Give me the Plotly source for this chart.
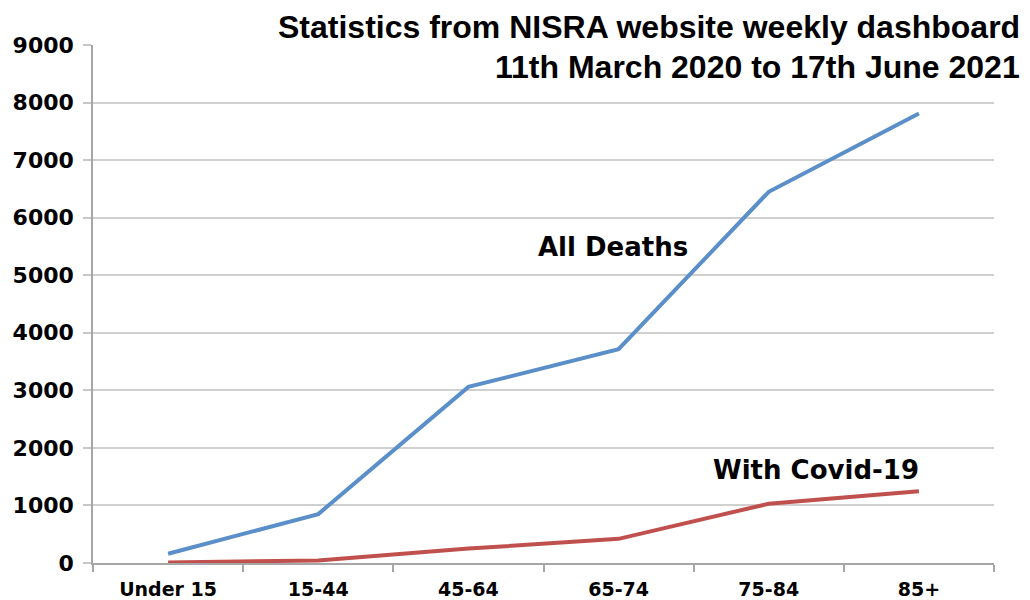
import plotly.graph_objects as go

categories = ["Under 15", "15-44", "45-64", "65-74", "75-84", "85+"]
all_deaths = [160, 850, 3060, 3715, 6450, 7810]
with_covid = [10, 45, 250, 420, 1030, 1245]
y_ticks = [0, 1000, 2000, 3000, 4000, 5000, 6000, 7000, 8000, 9000]

fig = go.Figure()
fig.add_trace(go.Scatter(x=categories, y=all_deaths, mode="lines",
                         line=dict(color="#5B8FC9", width=4), name="All Deaths"))
fig.add_trace(go.Scatter(x=categories, y=with_covid, mode="lines",
                         line=dict(color="#C0504D", width=4), name="With Covid-19"))

title_font = dict(family="Liberation Sans Narrow, Arial Narrow, Liberation Sans", size=32, color="black")
fig.add_annotation(text="<b>Statistics from NISRA website weekly dashboard</b>", xref="paper", yref="paper",
                   x=1.031, y=1.034, xanchor="right", yanchor="middle", showarrow=False, font=title_font)
fig.add_annotation(text="<b>11th March 2020 to 17th June 2021</b>", xref="paper", yref="paper",
                   x=1.031, y=0.957, xanchor="right", yanchor="middle", showarrow=False, font=title_font)

lab_font = dict(family="DejaVu Sans", size=26, color="black")
fig.add_annotation(text="<b>All Deaths</b>", xref="paper", yref="paper", x=0.577, y=0.61,
                   xanchor="center", yanchor="middle", showarrow=False, font=lab_font)
fig.add_annotation(text="<b>With Covid-19</b>", xref="paper", yref="paper", x=0.802, y=0.18,
                   xanchor="center", yanchor="middle", showarrow=False, font=lab_font)

fig.update_layout(
    width=1030, height=600,
    margin=dict(l=85, r=44, t=37, b=45),
    paper_bgcolor="white", plot_bgcolor="white",
    showlegend=False,
)
fig.update_xaxes(type="category", tickson="boundaries", ticks="outside", ticklen=7,
                 tickcolor="#a6a6a6", tickwidth=1.5, automargin=False,
                 showline=True, linecolor="#a6a6a6", linewidth=1.5, showgrid=False,
                 tickfont=dict(family="DejaVu Sans", size=19, color="black"),
                 ticklabelstandoff=8,
                 range=[-0.5, len(categories) - 0.5])
fig.update_yaxes(range=[0, 9000], tickvals=y_ticks, ticktext=[f"<b>{v}</b>" for v in y_ticks],
                 ticks="outside", ticklen=8, tickcolor="#c8c8c8", tickwidth=1.5, automargin=False,
                 showline=True, linecolor="#a6a6a6", linewidth=1.5,
                 showgrid=True, gridcolor="#d0d0d0", gridwidth=1.5, zeroline=False,
                 ticklabelstandoff=5,
                 tickfont=dict(family="DejaVu Sans", size=22, color="black"))
fig.update_xaxes(ticktext=[f"<b>{c}</b>" for c in categories], tickvals=categories)

fig.write_html("out.html")
